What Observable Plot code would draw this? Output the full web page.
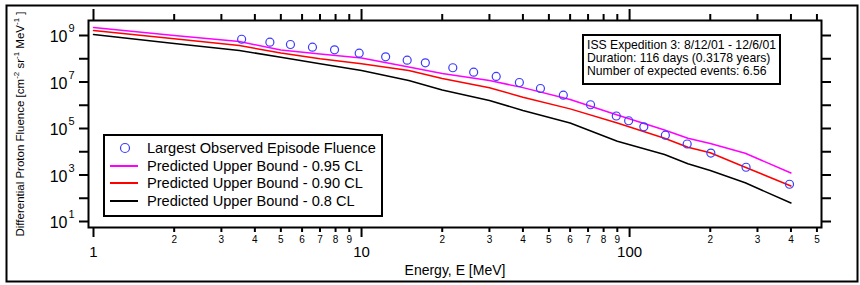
<!DOCTYPE html>
<html><head><meta charset="utf-8">
<script src="https://cdn.jsdelivr.net/npm/d3@7"></script>
<script src="https://cdn.jsdelivr.net/npm/@observablehq/plot@0.6"></script>
<style>
body{margin:0;background:#fff;font-family:"Liberation Sans",Arial,sans-serif;color:#000;}
#wrap{position:relative;width:860px;height:285px;}
.box{position:absolute;border:2px solid #000;background:#fff;box-sizing:border-box;}
#legend{left:103px;top:134px;width:280px;height:83px;}
#legend .row{position:absolute;left:0;height:18px;line-height:18px;font-size:14.6px;white-space:nowrap;}
#legend .row svg{position:absolute;left:0;top:0;}
#legend .row span{position:absolute;left:42px;top:0;}
#note{left:582px;top:34px;width:199px;height:51px;padding:3px 0 0 3px;font-size:12.2px;line-height:13px;white-space:nowrap;}
</style></head><body><div id="wrap"></div>
<script>
// Observed: largest observed episode fluence
const obsEnergy = [3.57, 4.55, 5.43, 6.56, 7.93, 9.8, 12.3, 14.8, 17.3, 21.9, 26.2, 31.8, 38.8, 46.5, 56.6, 71.5, 89.2, 99.2, 113, 136, 164, 201, 272, 395];
const obsFluence = [6.9e8, 5.15e8, 4.1e8, 3.14e8, 2.43e8, 1.73e8, 1.21e8, 8.7e7, 6.7e7, 4.1e7, 2.64e7, 1.73e7, 9.5e6, 5.25e6, 2.7e6, 1.05e6, 3.45e5, 2.16e5, 1.18e5, 5.15e4, 2.15e4, 8.8e3, 2.16e3, 4.0e2];
// Predicted upper bounds
const curveEnergy = [1, 2, 3.5, 5, 7, 10, 15, 20, 30, 40, 60, 90, 135, 165, 200, 270, 400];
const cl95 = [2.21e9, 1.0e9, 5.5e8, 2.38e8, 1.6e8, 1.08e8, 4.4e7, 2.32e7, 1.16e7, 5.74e6, 1.77e6, 3.8e5, 8.6e4, 3.83e4, 2.26e4, 8.66e3, 1.22e3];
const cl90 = [1.64e9, 7.3e8, 3.72e8, 1.77e8, 9.95e7, 6.07e7, 3.13e7, 1.42e7, 5.63e6, 2.22e6, 7.0e5, 1.73e5, 3.83e4, 1.57e4, 9.0e3, 2.16e3, 3.37e2];
const cl80 = [1.1e9, 4.53e8, 2.26e8, 1.17e8, 6.07e7, 3.13e7, 1.16e7, 4.53e6, 1.6e6, 5.94e5, 1.73e5, 2.84e4, 7.62e3, 3.03e3, 1.56e3, 4.62e2, 62.5];
const seriesNames = ["Largest Observed Episode Fluence", "Predicted Upper Bound - 0.95 CL", "Predicted Upper Bound - 0.90 CL", "Predicted Upper Bound - 0.8 CL"];
const seriesColors = ["#3b3bff", "#ff00ff", "#ff0000", "#000000"];
// Axes
const xMajor = [1, 10, 100];
const xMajorLabels = ["1", "10", "100"];
const xMinor = [2,3,4,5,6,7,8,9,20,30,40,50,60,70,80,90,200,300,400,500];
const xMinorLabels = ["2","3","4","5","6","7","8","9","2","3","4","5","6","7","8","9","2","3","4","5"];
const yTicks = [1e1,1e2,1e3,1e4,1e5,1e6,1e7,1e8,1e9];
const yLabelTicks = [1e1,1e3,1e5,1e7,1e9];
const yLabelExp = ["1","3","5","7","9"];
const xTitle = "Energy, E [MeV]";
const yTitleParts = ["Differential Proton Fluence [cm", "-2", " sr", "-1", " MeV", "-1", " ]"];
const yTitle = yTitleParts.join("");
const noteLines = ["ISS Expedition 3: 8/12/01 - 12/6/01", "Duration: 116 days (0.3178 years)", "Number of expected events: 6.56"];

const obs = obsEnergy.map((e,i)=>({e, f: obsFluence[i]}));
const mk = arr => curveEnergy.map((e,i)=>({e, f: arr[i]}));

const chart = Plot.plot({
  width: 860, height: 285,
  marginLeft: 88, marginRight: 39, marginTop: 20, marginBottom: 58,
  style: {fontFamily: "Liberation Sans, Arial, sans-serif", background: "white", color: "black"},
  x: {type: "log", domain: [0.958, 520], axis: null},
  y: {type: "log", domain: [5.52, 4.42e9], axis: null},
  marks: [
    Plot.frame({strokeWidth: 2, insetLeft: -82, insetTop: -15, insetRight: -36, insetBottom: -54}),
    Plot.line(mk(cl80), {x: "e", y: "f", stroke: seriesColors[3], strokeWidth: 1.5}),
    Plot.line(mk(cl90), {x: "e", y: "f", stroke: seriesColors[2], strokeWidth: 1.5}),
    Plot.line(mk(cl95), {x: "e", y: "f", stroke: seriesColors[1], strokeWidth: 1.5}),
    Plot.dot(obs, {x: "e", y: "f", r: 4, stroke: seriesColors[0], strokeWidth: 1.2, fill: "none"}),
    Plot.frame({strokeWidth: 2}),
    // bottom ticks
    Plot.tickX(xMinor, {x: d => d, insetTop: 207, insetBottom: -5, strokeWidth: 2}),
    Plot.tickX(xMajor, {x: d => d, insetTop: 207, insetBottom: -10, strokeWidth: 2}),
    // top ticks
    Plot.tickX(xMinor, {x: d => d, insetTop: -6, insetBottom: 207, strokeWidth: 2}),
    Plot.tickX(xMajor, {x: d => d, insetTop: -11, insetBottom: 207, strokeWidth: 2}),
    // bottom labels
    Plot.text(xMinor, {x: d => d, frameAnchor: "bottom", text: (d,i) => xMinorLabels[i], textAnchor: "middle", lineAnchor: "middle", dy: 12, fontSize: 10}),
    Plot.text(xMajor, {x: d => d, frameAnchor: "bottom", text: (d,i) => xMajorLabels[i], textAnchor: "middle", lineAnchor: "middle", dy: 25, fontSize: 15}),
    // y ticks
    Plot.axisY(yTicks, {anchor: "left", tickSize: 9, strokeWidth: 2, tickFormat: () => "", label: null}),
    Plot.axisY(yTicks, {anchor: "right", tickSize: 9, strokeWidth: 2, tickFormat: () => "", label: null}),
    Plot.text(yLabelTicks, {y: d => d, frameAnchor: "left", text: () => "10", textAnchor: "end", lineAnchor: "middle", dx: -21, dy: 1.5, fontSize: 16}),
    Plot.text(yLabelTicks, {y: d => d, frameAnchor: "left", text: (d,i) => yLabelExp[i], textAnchor: "start", lineAnchor: "middle", dx: -20, dy: -7, fontSize: 11}),
    Plot.text([xTitle], {frameAnchor: "bottom", text: d => d, textAnchor: "middle", lineAnchor: "middle", dy: 43, fontSize: 14}),
    Plot.text([yTitle], {frameAnchor: "left", text: d => d, rotate: -90, textAnchor: "middle", lineAnchor: "middle", dx: -68, fontSize: 11.5})
  ]
});
document.getElementById("wrap").appendChild(chart);

// superscripts in the y title
const t = Array.from(chart.querySelectorAll("text")).find(el => el.textContent === yTitle);
if (t) {
  t.textContent = "";
  yTitleParts.forEach((p, i) => {
    const ts = document.createElementNS("http://www.w3.org/2000/svg", "tspan");
    ts.textContent = p;
    if (i % 2 === 1) { ts.setAttribute("font-size", "8"); ts.setAttribute("dy", "-5"); }
    else if (i > 0) { ts.setAttribute("dy", "5"); }
    t.appendChild(ts);
  });
}

// legend
const wrap = document.getElementById("wrap");
const leg = document.createElement("div");
leg.className = "box"; leg.id = "legend";
const rowTops = [3, 21, 38, 56];
seriesNames.forEach((name, i) => {
  const row = document.createElement("div");
  row.className = "row"; row.style.top = rowTops[i] + "px"; row.style.width = "270px";
  const sw = i === 0
    ? `<svg width="40" height="18"><circle cx="20" cy="9" r="4.5" fill="none" stroke="${seriesColors[0]}" stroke-width="1.2"/></svg>`
    : `<svg width="40" height="18"><line x1="5" x2="33" y1="9" y2="9" stroke="${seriesColors[i]}" stroke-width="2"/></svg>`;
  row.innerHTML = sw + `<span>${name}</span>`;
  leg.appendChild(row);
});
wrap.appendChild(leg);

const note = document.createElement("div");
note.className = "box"; note.id = "note";
note.innerHTML = noteLines.map(s => `<div>${s}</div>`).join("");
wrap.appendChild(note);
</script></body></html>
